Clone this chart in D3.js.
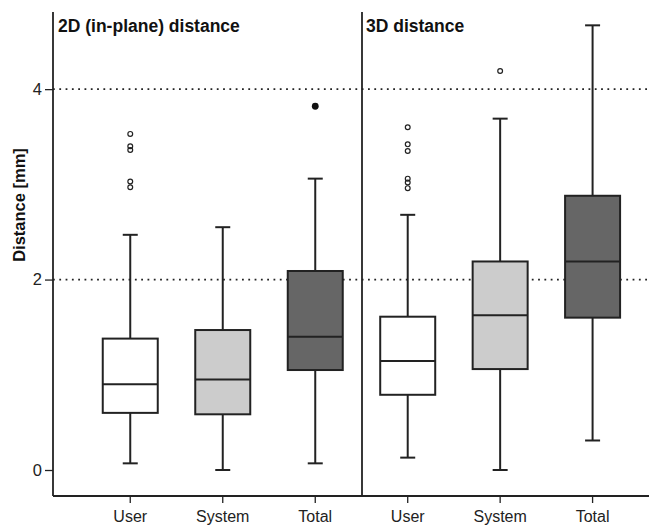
<!DOCTYPE html>
<html>
<head>
<meta charset="utf-8">
<script src="https://cdn.jsdelivr.net/npm/d3@7"></script>
<style>
  html, body { margin: 0; padding: 0; background: #fff; }
  svg { display: block; font-family: "Liberation Sans", Arial, sans-serif; }
</style>
</head>
<body>
<svg id="chart" width="649" height="527"></svg>
<script>
// ---- Data ----
const panels = ["2D (in-plane) distance", "3D distance"];
const categories = ["User", "System", "Total"];
const fills = ["#ffffff", "#cccccc", "#666666"];
const yTicks = [0, 2, 4];
const refLines = [2, 4];

// [whiskerLow, Q1, median, Q3, whiskerHigh] per category
const stats2D = [
  [0.07, 0.60, 0.90, 1.38, 2.47],
  [0.00, 0.585, 0.95, 1.47, 2.55],
  [0.07, 1.05, 1.40, 2.09, 3.06]
];
const stats3D = [
  [0.13, 0.79, 1.145, 1.61, 2.68],
  [0.00, 1.06, 1.625, 2.19, 3.69],
  [0.31, 1.60, 2.19, 2.88, 4.67]
];
// outliers: open circles
const outliers2D = [[3.53, 3.40, 3.36, 3.03, 2.97], [], []];
const outliers3D = [[3.60, 3.42, 3.35, 3.06, 3.02, 2.96], [4.19], []];
// extreme values: filled dots
const extremes2D = [[], [], [3.82]];
const extremes3D = [[], [], []];

const statsByPanel = [stats2D, stats3D];
const outliersByPanel = [outliers2D, outliers3D];
const extremesByPanel = [extremes2D, extremes3D];

// ---- Layout ----
const svg = d3.select("#chart");
const axisX = 53, plotTop = 12, plotBottom = 496, divider = 362, plotRight = 649;

const y = d3.scaleLinear().domain([-0.273, 4.81]).range([plotBottom, plotTop]);

const panelX = [
  d3.scaleBand().domain(categories).range([84, 361.5]).padding(0),
  d3.scaleBand().domain(categories).range([361.5, 638.8]).padding(0)
];
const boxW = 55, capW = 15;

// reference dotted lines
svg.append("g").selectAll("line").data(refLines).join("line")
  .attr("x1", axisX).attr("x2", plotRight)
  .attr("y1", d => y(d)).attr("y2", d => y(d))
  .attr("stroke", "#222").attr("stroke-width", 1.8)
  .attr("stroke-dasharray", "1.8,4.5");

// y axis
const yAxis = d3.axisLeft(y).tickValues(yTicks).tickFormat(d3.format("d")).tickSize(8).tickPadding(3);
const gy = svg.append("g").attr("transform", `translate(${axisX},0)`).call(yAxis);
gy.select(".domain").remove();
gy.selectAll(".tick line").attr("stroke", "#222").attr("stroke-width", 1.3);
gy.selectAll(".tick text").attr("font-size", 16.5).attr("fill", "#222")
  .attr("font-family", "Liberation Sans, Arial, sans-serif");
svg.append("line").attr("x1", axisX).attr("x2", axisX).attr("y1", plotTop).attr("y2", plotBottom)
  .attr("stroke", "#222").attr("stroke-width", 1.8);

// bottom axis line
svg.append("line").attr("x1", axisX).attr("x2", plotRight).attr("y1", plotBottom).attr("y2", plotBottom)
  .attr("stroke", "#222").attr("stroke-width", 1.8);
// panel divider
svg.append("line").attr("x1", divider).attr("x2", divider).attr("y1", plotTop).attr("y2", plotBottom)
  .attr("stroke", "#222").attr("stroke-width", 1.8);

// y label
svg.append("text")
  .attr("transform", `translate(25,205) rotate(-90)`)
  .attr("text-anchor", "middle")
  .attr("font-size", 16.5).attr("font-weight", "bold").attr("fill", "#111")
  .text("Distance [mm]");

const titleX = [58, 366];

panels.forEach((title, p) => {
  const x = panelX[p];
  const cx = c => x(c) + x.bandwidth() / 2;
  const g = svg.append("g");

  // x axis for the panel
  const xAxis = d3.axisBottom(x).tickSize(7).tickPadding(8);
  const gx = svg.append("g").attr("transform", `translate(0,${plotBottom})`).call(xAxis);
  gx.select(".domain").remove();
  gx.selectAll(".tick line").attr("stroke", "#222").attr("stroke-width", 1.3);
  gx.selectAll(".tick text").attr("font-size", 16).attr("fill", "#222")
    .attr("font-family", "Liberation Sans, Arial, sans-serif");

  // title
  svg.append("text").attr("x", titleX[p]).attr("y", 32)
    .attr("font-size", 17.5).attr("font-weight", "bold").attr("fill", "#111")
    .text(title);

  const stats = statsByPanel[p];
  categories.forEach((c, i) => {
    const [lo, q1, med, q3, hi] = stats[i];
    const xc = cx(c);
    const sw = 2;
    // whiskers
    g.append("line").attr("x1", xc).attr("x2", xc).attr("y1", y(hi)).attr("y2", y(q3))
      .attr("stroke", "#222").attr("stroke-width", sw);
    g.append("line").attr("x1", xc).attr("x2", xc).attr("y1", y(q1)).attr("y2", y(lo))
      .attr("stroke", "#222").attr("stroke-width", sw);
    g.append("line").attr("x1", xc - capW / 2).attr("x2", xc + capW / 2).attr("y1", y(hi)).attr("y2", y(hi))
      .attr("stroke", "#222").attr("stroke-width", sw);
    g.append("line").attr("x1", xc - capW / 2).attr("x2", xc + capW / 2).attr("y1", y(lo)).attr("y2", y(lo))
      .attr("stroke", "#222").attr("stroke-width", sw);
    // box
    g.append("rect").attr("x", xc - boxW / 2).attr("width", boxW)
      .attr("y", y(q3)).attr("height", y(q1) - y(q3))
      .attr("fill", fills[i]).attr("stroke", "#222").attr("stroke-width", sw);
    g.append("line").attr("x1", xc - boxW / 2).attr("x2", xc + boxW / 2).attr("y1", y(med)).attr("y2", y(med))
      .attr("stroke", "#222").attr("stroke-width", sw);
    // outliers
    g.selectAll(null).data(outliersByPanel[p][i]).join("circle")
      .attr("cx", xc).attr("cy", d => y(d)).attr("r", 2.4)
      .attr("fill", "none").attr("stroke", "#222").attr("stroke-width", 1.2);
    g.selectAll(null).data(extremesByPanel[p][i]).join("circle")
      .attr("cx", xc).attr("cy", d => y(d)).attr("r", 3.4)
      .attr("fill", "#111");
  });
});
</script>
</body>
</html>
